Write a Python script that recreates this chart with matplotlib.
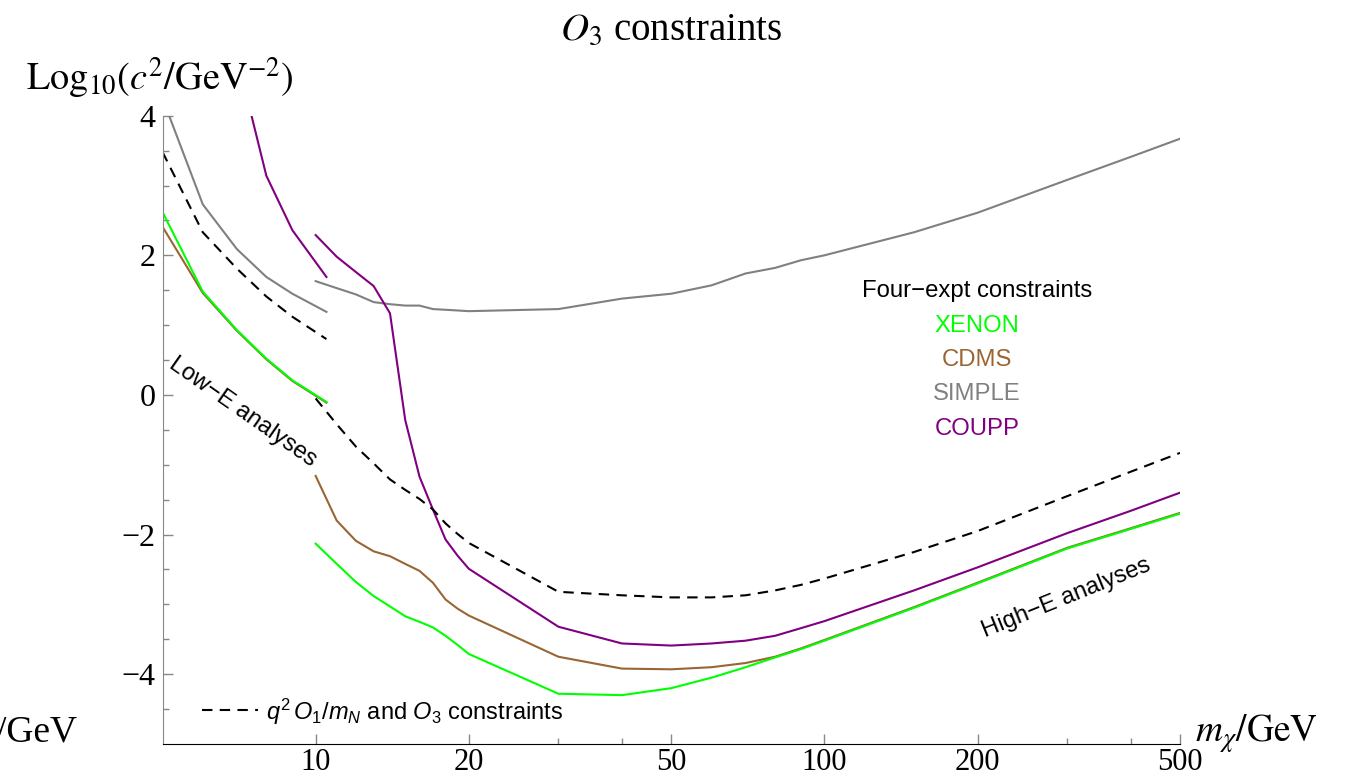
import matplotlib
matplotlib.use("Agg")
import matplotlib.pyplot as plt
from matplotlib.ticker import FixedLocator, NullFormatter

plt.rcParams["font.family"] = "Liberation Sans"
plt.rcParams["mathtext.fontset"] = "custom"
plt.rcParams["mathtext.rm"] = "Liberation Sans"
plt.rcParams["mathtext.it"] = "Liberation Sans:italic"

# low-E analyses (m < ~10 GeV)
m_low = [5, 6, 7, 8, 9, 10.5]
xenon_low = [2.62, 1.48, 0.93, 0.52, 0.21, -0.10]
cdms_low = [2.41, 1.46, 0.92, 0.51, 0.20, -0.11]
simple_low = [4.25, 2.73, 2.09, 1.69, 1.45, 1.19]
dashed_low = [3.48, 2.33, 1.81, 1.41, 1.12, 0.80]
m_coupp_low = [7, 8, 9, 10.5]
coupp_low = [4.85, 3.14, 2.36, 1.69]

# high-E analyses
m_high = [10, 11, 12, 13, 14, 15, 16, 17, 18, 19, 20, 30, 40, 50, 60, 70, 80, 90,
          100, 150, 200, 300, 400, 500]
xenon_high = [-2.13, -2.42, -2.68, -2.88, -3.03, -3.17, -3.25, -3.33, -3.45, -3.58, -3.71,
              -4.28, -4.30, -4.20, -4.05, -3.90, -3.76, -3.64, -3.52, -3.05, -2.70, -2.20,
              -1.92, -1.70]
cdms_high = [-1.16, -1.80, -2.09, -2.24, -2.31, -2.42, -2.52, -2.69, -2.93, -3.06, -3.16,
             -3.75, -3.92, -3.93, -3.90, -3.84, -3.75, -3.63, -3.51, -3.04, -2.69, -2.19,
             -1.91, -1.69]
simple_high = [1.63, 1.53, 1.44, 1.33, 1.30, 1.28, 1.28, 1.23, 1.22, 1.21, 1.20, 1.23,
               1.38, 1.45, 1.57, 1.74, 1.82, 1.93, 2.00, 2.33, 2.61, 3.08, 3.41, 3.67]
coupp_high = [2.29, 1.98, 1.76, 1.56, 1.17, -0.36, -1.17, -1.64, -2.07, -2.30, -2.49,
              -3.32, -3.56, -3.59, -3.56, -3.52, -3.45, -3.34, -3.24, -2.80, -2.47, -1.98,
              -1.66, -1.40]
dashed_high = [-0.05, -0.42, -0.74, -0.98, -1.21, -1.36, -1.49, -1.64, -1.84, -1.99, -2.12,
               -2.82, -2.87, -2.90, -2.90, -2.87, -2.80, -2.72, -2.63, -2.25, -1.95, -1.45,
               -1.10, -0.83]

x_major = [10, 20, 50, 100, 200, 500]
x_minor = [30, 40, 300, 400]
y_major = [-4, -2, 0, 2, 4]
y_minor = [-4.5, -3.5, -3, -2.5, -1.5, -1, -0.5, 0.5, 1, 1.5, 2.5, 3, 3.5]

c_xenon = "#00ff00"
c_cdms = "#996633"
c_simple = "#808080"
c_coupp = "#800080"

W, H = 1361, 778
fig = plt.figure(figsize=(W / 100, H / 100), dpi=100)
ax = fig.add_axes([162.5 / W, 1 - 744 / H, (1180 - 162.5) / W, (744 - 115.7) / H])
ax.set_xscale("log")
ax.set_xlim(5, 500)
ax.set_ylim(-5, 4)

lw = 1.5
ax.plot(m_low, cdms_low, color=c_cdms, lw=lw)
ax.plot(m_low, xenon_low, color=c_xenon, lw=lw)
ax.plot(m_low, simple_low, color=c_simple, lw=lw)
ax.plot(m_coupp_low, coupp_low, color=c_coupp, lw=lw)
ax.plot(m_low, dashed_low, color="black", lw=lw, dashes=(5, 3.5))

ax.plot(m_high, cdms_high, color=c_cdms, lw=lw)
ax.plot(m_high, xenon_high, color=c_xenon, lw=lw)
ax.plot(m_high, simple_high, color=c_simple, lw=lw)
ax.plot(m_high, coupp_high, color=c_coupp, lw=lw)
ax.plot(m_high, dashed_high, color="black", lw=lw, dashes=(5, 3.5))

# Mathematica-like frame
ax.spines["top"].set_visible(False)
ax.spines["right"].set_visible(False)
ax.spines["left"].set_color("#888888")
ax.spines["bottom"].set_color("black")
ax.xaxis.set_major_locator(FixedLocator(x_major))
ax.xaxis.set_minor_locator(FixedLocator(x_minor))
ax.xaxis.set_minor_formatter(NullFormatter())
ax.set_xticklabels([str(v) for v in x_major], family="Liberation Serif", fontsize=22)
ax.yaxis.set_major_locator(FixedLocator(y_major))
ax.yaxis.set_minor_locator(FixedLocator(y_minor))
ax.set_yticklabels([str(v).replace("-", "\u2212") for v in y_major],
                   family="Liberation Serif", fontsize=23)
ax.tick_params(which="major", direction="in", length=7, width=1, color="#888888", pad=5)
ax.tick_params(axis="x", which="major", pad=3)
ax.tick_params(which="minor", direction="in", length=4, width=1, color="#888888")

# labels
fig.text(26 / W, 1 - 90 / H, r"$\mathrm{Log}_{10}(c^2/\mathrm{GeV}^{-2})$",
         math_fontfamily="stix", fontsize=27.5, va="baseline", ha="left")
fig.text(671 / W, 1 - 40 / H, r"$O_3$ constraints", family="Liberation Serif",
         math_fontfamily="stix", fontsize=28, va="baseline", ha="center")
fig.text(1195 / W, 1 - 742 / H, r"$m_\chi/\mathrm{GeV}$", math_fontfamily="stix",
         fontsize=27, va="baseline", ha="left")
fig.text(-4 / W, 1 - 742 / H, "/GeV", family="Liberation Serif", fontsize=27,
         va="baseline", ha="left")

# legend text
leg_x = 977 / W
fig.text(leg_x, 1 - 297 / H, "Four\u2212expt constraints", fontsize=17.2, ha="center",
         va="baseline", color="black")
for name, col, yb in [("XENON", c_xenon, 332), ("CDMS", c_cdms, 366.5),
                      ("SIMPLE", c_simple, 400.5), ("COUPP", c_coupp, 435)]:
    fig.text(leg_x, 1 - yb / H, name, fontsize=17.2, ha="center", va="baseline", color=col)

fig.text(243 / W, 1 - 412 / H, "Low\u2212E analyses", fontsize=17.2, rotation=-35,
         rotation_mode="anchor", ha="center", va="center")
fig.text(1066 / W, 1 - 598 / H, "High\u2212E analyses", fontsize=17.2, rotation=22,
         rotation_mode="anchor", ha="center", va="center")

fig.add_artist(plt.Line2D([201.7 / W, 258.3 / W], [1 - 710 / H, 1 - 710 / H],
                          color="black", lw=lw, dashes=(5, 3.5)))
fig.text(266 / W, 1 - 720 / H, r"$q^2\,O_1/m_N$ and $O_3$ constraints", fontsize=17,
         ha="left", va="baseline")

fig.savefig("out.png", dpi=100)
